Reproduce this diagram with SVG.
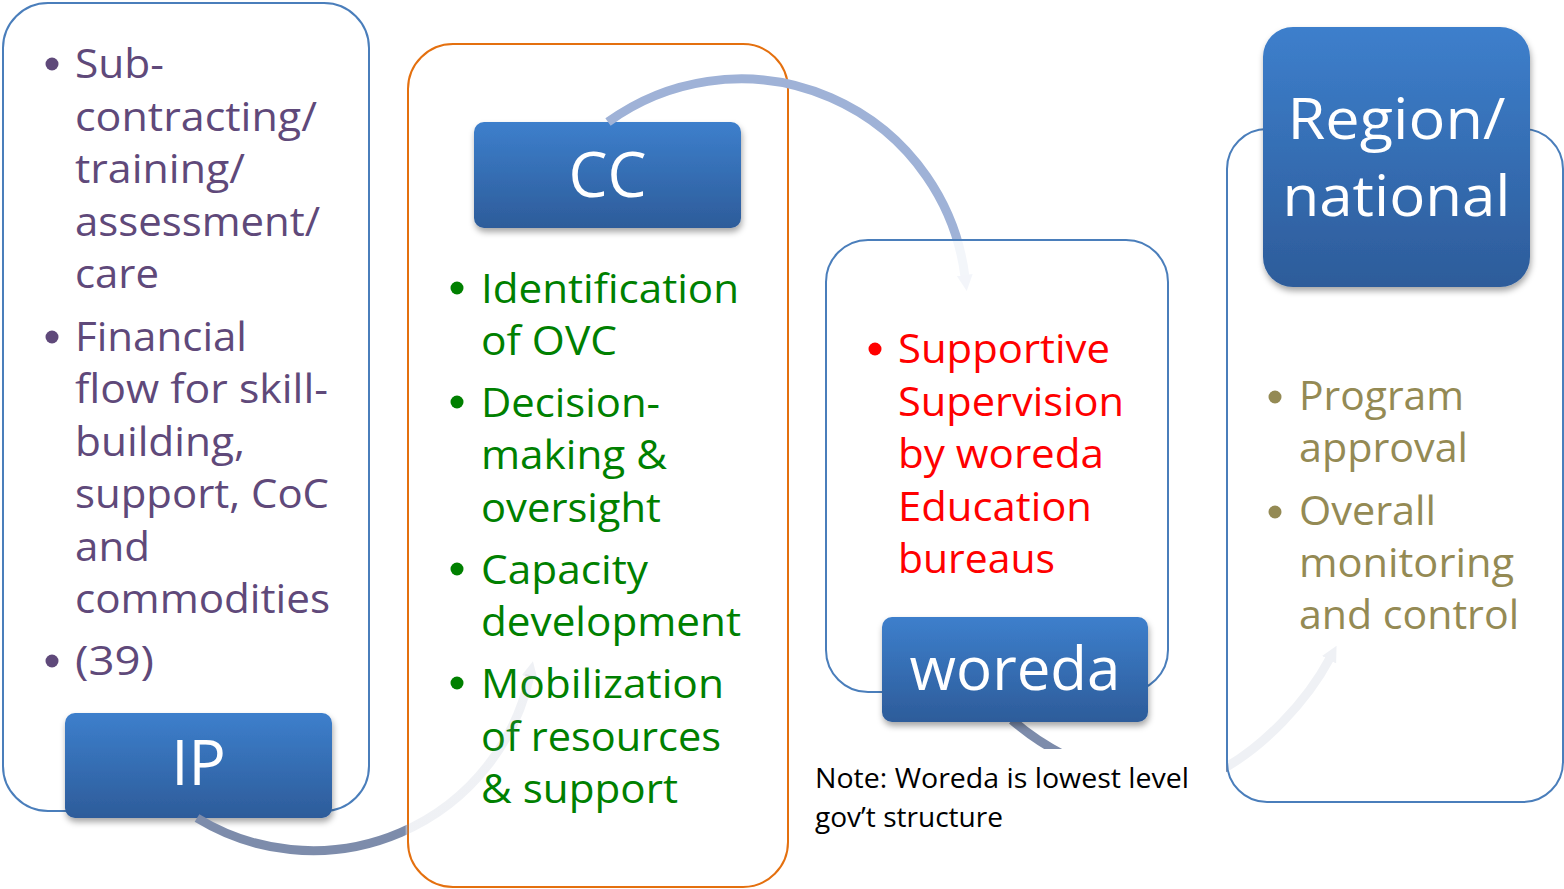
<svg xmlns="http://www.w3.org/2000/svg" width="1564" height="889" viewBox="0 0 1564 889">
<defs>
<style>
.outer{fill:#ffffff;fill-opacity:0.88;stroke:#4a7ebb;stroke-width:2}
.outer-o{fill:#ffffff;fill-opacity:0.88;stroke:#e4700f;stroke-width:2}
.lbl{fill:url(#lblGrad);filter:url(#shadow)}
.lt{font-family:"Open Sans","Noto Sans","Liberation Sans",sans-serif;fill:#ffffff;text-anchor:middle}
.bt{font-family:"Open Sans","Noto Sans","Liberation Sans",sans-serif;font-size:40px}
.purple{fill:#5f497a}
.green{fill:#008000}
.red{fill:#ff0000}
.olive{fill:#948a54}
.note{font-family:"Open Sans","Noto Sans","Liberation Sans",sans-serif;font-size:27px;fill:#000000}
.arc{fill:none;stroke-width:9}
</style>
<linearGradient id="lblGrad" x1="0" y1="0" x2="0" y2="1">
<stop offset="0" stop-color="#3d7fcc"/>
<stop offset="1" stop-color="#2d5c9a"/>
</linearGradient>
<linearGradient id="arc1Grad" gradientUnits="userSpaceOnUse" x1="190" y1="0" x2="540" y2="0">
<stop offset="0" stop-color="#7d8cab" stop-opacity="1"/>
<stop offset="0.614" stop-color="#7d8cab" stop-opacity="1"/>
<stop offset="0.625" stop-color="#7d8cab" stop-opacity="0.12"/>
<stop offset="1" stop-color="#7d8cab" stop-opacity="0.12"/>
</linearGradient>
<filter id="shadow" x="-10%" y="-10%" width="120%" height="130%">
<feDropShadow dx="1" dy="4" stdDeviation="3" flood-color="#000000" flood-opacity="0.35"/>
</filter>
<marker id="ah1" markerUnits="userSpaceOnUse" markerWidth="18" markerHeight="18" refX="2" refY="8" orient="auto">
<path d="M0,0 L16,8 L0,16 z" fill="#7d8cab" fill-opacity="0.12"/>
</marker>
<marker id="ah2" markerUnits="userSpaceOnUse" markerWidth="18" markerHeight="18" refX="2" refY="8" orient="auto">
<path d="M0,0 L16,8 L0,16 z" fill="#9aadd2"/>
</marker>
<marker id="ah3" markerUnits="userSpaceOnUse" markerWidth="18" markerHeight="18" refX="2" refY="8" orient="auto">
<path d="M0,0 L16,8 L0,16 z" fill="#7d8cab"/>
</marker>
</defs>
<rect x="0" y="0" width="1564" height="889" fill="#ffffff"/>

<g id="node-ip">
<rect class="outer" x="3" y="3" width="366" height="808" rx="45"/>
<rect class="lbl" x="65" y="713" width="267" height="105" rx="10"/>
<text class="lt" x="198.5" y="785" font-size="62">IP</text>
<g class="purple">
<circle cx="52" cy="64" r="6.5"/><circle cx="52" cy="337" r="6.5"/><circle cx="52" cy="661" r="6.5"/>
</g>
<g class="bt purple">
<text x="75" y="78" textLength="89" lengthAdjust="spacingAndGlyphs">Sub-</text>
<text x="75" y="131" textLength="242" lengthAdjust="spacingAndGlyphs">contracting/</text>
<text x="75" y="183" textLength="170" lengthAdjust="spacingAndGlyphs">training/</text>
<text x="75" y="236" textLength="245" lengthAdjust="spacingAndGlyphs">assessment/</text>
<text x="75" y="288" textLength="84" lengthAdjust="spacingAndGlyphs">care</text>
<text x="75" y="351" textLength="172" lengthAdjust="spacingAndGlyphs">Financial</text>
<text x="75" y="403" textLength="253" lengthAdjust="spacingAndGlyphs">flow for skill-</text>
<text x="75" y="456" textLength="170" lengthAdjust="spacingAndGlyphs">building,</text>
<text x="75" y="508" textLength="254" lengthAdjust="spacingAndGlyphs">support, CoC</text>
<text x="75" y="561" textLength="75" lengthAdjust="spacingAndGlyphs">and</text>
<text x="75" y="613" textLength="255" lengthAdjust="spacingAndGlyphs">commodities</text>
<text x="75" y="675" textLength="79" lengthAdjust="spacingAndGlyphs">(39)</text>
</g>
</g>

<g id="node-cc">
<rect class="outer-o" x="408" y="44" width="380" height="843" rx="45"/>
<rect class="lbl" x="474" y="122" width="267" height="106" rx="10"/>
<text class="lt" x="607.5" y="197" font-size="62">CC</text>
<g class="green">
<circle cx="457" cy="288" r="6.5"/><circle cx="457" cy="402" r="6.5"/><circle cx="457" cy="569" r="6.5"/><circle cx="457" cy="683" r="6.5"/>
</g>
<g class="bt green">
<text x="481" y="303" textLength="258" lengthAdjust="spacingAndGlyphs">Identification</text>
<text x="481" y="355" textLength="136" lengthAdjust="spacingAndGlyphs">of OVC</text>
<text x="481" y="417" textLength="179" lengthAdjust="spacingAndGlyphs">Decision-</text>
<text x="481" y="469" textLength="186" lengthAdjust="spacingAndGlyphs">making &amp;</text>
<text x="481" y="522" textLength="180" lengthAdjust="spacingAndGlyphs">oversight</text>
<text x="481" y="584" textLength="167" lengthAdjust="spacingAndGlyphs">Capacity</text>
<text x="481" y="636" textLength="260" lengthAdjust="spacingAndGlyphs">development</text>
<text x="481" y="698" textLength="243" lengthAdjust="spacingAndGlyphs">Mobilization</text>
<text x="481" y="751" textLength="240" lengthAdjust="spacingAndGlyphs">of resources</text>
<text x="481" y="803" textLength="197" lengthAdjust="spacingAndGlyphs">&amp; support</text>
</g>
</g>

<g id="connectors">
<path class="arc" d="M 197 818 A 222 222 0 0 0 530 675" stroke="url(#arc1Grad)" marker-end="url(#ah1)"/>
<path class="arc" d="M 608 122 A 226 226 0 0 1 965 277" stroke="#9fb2d7" marker-end="url(#ah2)"/>
<path class="arc" d="M 1012 720 C 1075 775, 1170 800, 1228 766 C 1262 746, 1305 705, 1330 658" stroke="#7d8cab" marker-end="url(#ah3)"/>
</g>

<g id="node-woreda">
<rect class="outer" x="826" y="240" width="342" height="452" rx="42"/>
<rect class="lbl" x="882" y="617" width="266" height="105" rx="10"/>
<text class="lt" x="1015" y="690" font-size="60">woreda</text>
<circle class="red" cx="875" cy="349" r="6.5"/>
<g class="bt red">
<text x="898" y="363" textLength="212" lengthAdjust="spacingAndGlyphs">Supportive</text>
<text x="898" y="416" textLength="226" lengthAdjust="spacingAndGlyphs">Supervision</text>
<text x="898" y="468" textLength="206" lengthAdjust="spacingAndGlyphs">by woreda</text>
<text x="898" y="521" textLength="194" lengthAdjust="spacingAndGlyphs">Education</text>
<text x="898" y="573" textLength="157" lengthAdjust="spacingAndGlyphs">bureaus</text>
</g>
</g>

<g id="note">
<rect x="808" y="749" width="418" height="92" fill="#ffffff"/>
<text class="note" x="815" y="788" textLength="374" lengthAdjust="spacingAndGlyphs">Note: Woreda is lowest level</text>
<text class="note" x="815" y="827" textLength="188" lengthAdjust="spacingAndGlyphs">gov’t structure</text>
</g>

<g id="node-region">
<rect class="outer" x="1227" y="129" width="336" height="673" rx="40"/>
<rect class="lbl" x="1263" y="27" width="267" height="260" rx="30"/>
<text class="lt" x="1396.5" y="139" font-size="57" textLength="218" lengthAdjust="spacingAndGlyphs">Region/</text>
<text class="lt" x="1396.5" y="216" font-size="57" textLength="228" lengthAdjust="spacingAndGlyphs">national</text>
<g class="olive">
<circle cx="1275" cy="397" r="6.5"/><circle cx="1275" cy="512" r="6.5"/>
</g>
<g class="bt olive">
<text x="1299" y="410" textLength="165" lengthAdjust="spacingAndGlyphs">Program</text>
<text x="1299" y="462" textLength="169" lengthAdjust="spacingAndGlyphs">approval</text>
<text x="1299" y="525" textLength="137" lengthAdjust="spacingAndGlyphs">Overall</text>
<text x="1299" y="577" textLength="215" lengthAdjust="spacingAndGlyphs">monitoring</text>
<text x="1299" y="629" textLength="220" lengthAdjust="spacingAndGlyphs">and control</text>
</g>
</g>
</svg>
